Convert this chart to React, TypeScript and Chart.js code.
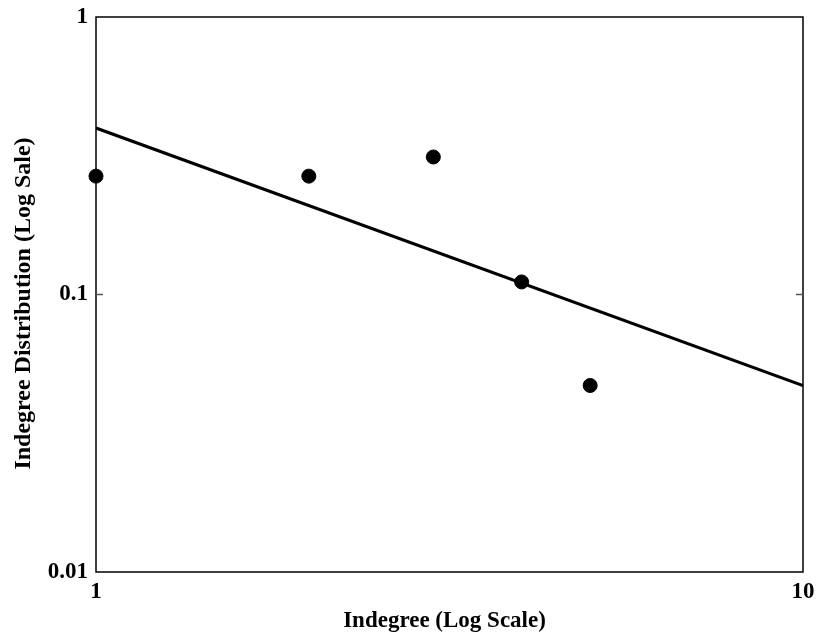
import React, { useEffect, useRef } from "react";
import { Chart, registerables } from "chart.js";

Chart.register(...registerables);

const indegree = [1, 2, 3, 4, 5];
const distribution = [0.267, 0.267, 0.313, 0.111, 0.047];
const fitX = [1, 10];
const fitY = [0.398, 0.047];
const xTicks = [1, 10];
const yTicks = [0.01, 0.1, 1];
const xTitle = "Indegree (Log Scale)";
const yTitle = "Indegree Distribution (Log Sale)";

const FONT = "'Liberation Serif', 'Times New Roman', serif";

const framePlugin = {
  id: "frame",
  afterDatasetsDraw(chart: any) {
    const { ctx, chartArea, scales } = chart;
    const { left, right, top, bottom } = chartArea;
    ctx.save();
    ctx.strokeStyle = "#000";
    ctx.lineWidth = 1.5;
    ctx.strokeRect(left, top, right - left, bottom - top);
    ctx.strokeStyle = "#555";
    const y01 = scales.y.getPixelForValue(0.1);
    ctx.beginPath();
    ctx.moveTo(left, y01);
    ctx.lineTo(left + 7, y01);
    ctx.moveTo(right, y01);
    ctx.lineTo(right - 7, y01);
    ctx.stroke();

    // axis titles
    ctx.fillStyle = "#000";
    ctx.textAlign = "center";
    ctx.textBaseline = "middle";
    ctx.font = `bold 23px ${FONT}`;
    ctx.fillText(xTitle, (left + right) / 2 - 5, 621);
    ctx.translate(24, (top + bottom) / 2 + 9);
    ctx.rotate(-Math.PI / 2);
    ctx.font = `bold 24px ${FONT}`;
    ctx.fillText(yTitle, 0, 0);
    ctx.restore();
  },
};

export default function App() {
  const ref = useRef<HTMLCanvasElement>(null);
  useEffect(() => {
    if (!ref.current) return;
    const chart = new Chart(ref.current, {
      type: "scatter",
      data: {
        datasets: [
          {
            type: "line",
            data: fitX.map((x, i) => ({ x, y: fitY[i] })),
            borderColor: "#000",
            borderWidth: 3,
            pointRadius: 0,
            fill: false,
          },
          {
            type: "scatter",
            data: indegree.map((x, i) => ({ x, y: distribution[i] })),
            backgroundColor: "#000",
            borderColor: "#000",
            pointRadius: 7,
            clip: false,
          } as any,
        ],
      },
      options: {
        responsive: false,
        animation: false,
        layout: { padding: { top: 17, right: 16, left: 0, bottom: 0 } },
        plugins: { legend: { display: false }, tooltip: { enabled: false } },
        scales: {
          x: {
            type: "logarithmic",
            min: 1,
            max: 10,
            grid: { display: false, drawTicks: false },
            border: { display: false },
            afterBuildTicks: (s: any) => {
              s.ticks = xTicks.map((v) => ({ value: v }));
            },
            afterFit: (s: any) => {
              s.height = 67;
              s.paddingLeft = 0;
              s.paddingRight = 0;
            },
            ticks: {
              color: "#000",
              padding: 6,
              maxRotation: 0,
              autoSkip: false,
              font: { family: FONT, size: 23, weight: "bold" },
              callback: (v: any) => String(v),
            },
          },
          y: {
            type: "logarithmic",
            min: 0.01,
            max: 1,
            grid: { display: false, drawTicks: false },
            border: { display: false },
            afterBuildTicks: (s: any) => {
              s.ticks = yTicks.map((v) => ({ value: v }));
            },
            afterFit: (s: any) => {
              s.width = 96;
              s.paddingTop = 0;
              s.paddingBottom = 0;
            },
            ticks: {
              color: "#000",
              padding: 8,
              autoSkip: false,
              font: { family: FONT, size: 23, weight: "bold" },
              callback: (v: any) => String(v),
            },
          },
        },
      },
      plugins: [framePlugin],
    });
    return () => chart.destroy();
  }, []);
  return (
    <div style={{ position: "absolute", left: 0, top: 0, width: 819, height: 639, background: "#fff" }}>
      <canvas ref={ref} width={819} height={639} />
    </div>
  );
}
